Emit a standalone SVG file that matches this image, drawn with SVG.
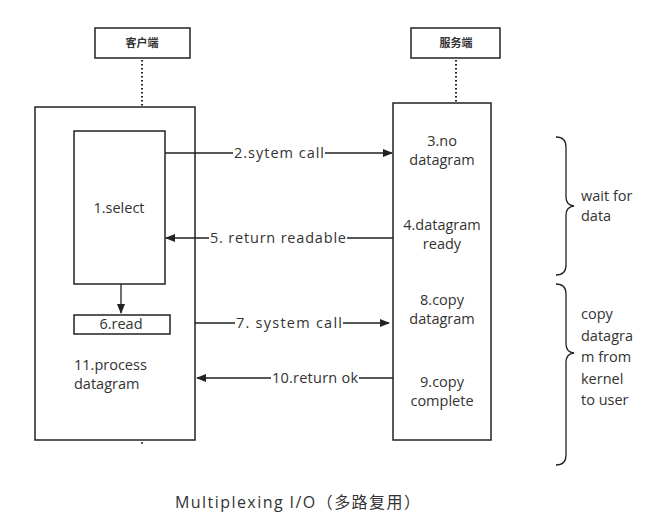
<svg xmlns="http://www.w3.org/2000/svg" width="661" height="516" viewBox="0 0 661 516">
<style>
text{font-family:"Open Sans","DejaVu Sans",sans-serif;font-size:14.5px;fill:#333}
.b{fill:#fff;stroke:#222;stroke-width:1.5}
.l{stroke:#222;stroke-width:1.3;fill:none}
.d{stroke:#222;stroke-width:2;stroke-dasharray:1.5 2.5;fill:none}
.c{text-anchor:middle}
.h{font-family:"Noto Sans CJK SC",sans-serif;font-size:11px;font-weight:bold;text-anchor:middle}
</style>
<defs><marker id="a" markerWidth="10" markerHeight="8" refX="9" refY="4" orient="auto" markerUnits="userSpaceOnUse"><path d="M0,0L10,4L0,8z" fill="#222"/></marker></defs>
<rect width="661" height="516" fill="#fff"/>
<g id="client">
<rect class="b" x="95" y="28" width="95" height="30"/><text class="h" x="142" y="47">客户端</text>
<path class="d" d="M142 60V106"/>
<rect class="b" x="35" y="107" width="160" height="333"/>
<rect class="b" x="74" y="131" width="91" height="153"/><text class="c" x="119" y="213">1.select</text>
<rect class="b" x="74" y="315" width="96" height="19"/><text class="c" x="121" y="329">6.read</text>
<text x="74" y="370">11.process</text><text x="74" y="389">datagram</text>
</g>
<g id="server">
<rect class="b" x="411" y="28" width="89" height="30"/><text class="h" x="456" y="47">服务端</text>
<path class="d" d="M456 60V102"/>
<rect class="b" x="393" y="103" width="98" height="337"/>
<text class="c" x="442" y="146">3.no</text><text class="c" x="442" y="165">datagram</text>
<text class="c" x="442" y="230">4.datagram</text><text class="c" x="442" y="249">ready</text>
<text class="c" x="442" y="305">8.copy</text><text class="c" x="442" y="324">datagram</text>
<text class="c" x="442" y="387">9.copy</text><text class="c" x="442" y="406">complete</text>
</g>
<g id="connectors">
<path class="l" d="M121 284V313" marker-end="url(#a)"/>
<path class="l" d="M165 153H233M325 153H392" marker-end="url(#a)"/><text x="234" y="158" textLength="90">2.sytem call</text>
<path class="l" d="M393 238H347M209 238H166" marker-end="url(#a)"/><text x="210" y="243" textLength="136">5. return readable</text>
<path class="l" d="M195 323H235M343 323H389" marker-end="url(#a)"/><text x="236" y="328" textLength="106">7. system call</text>
<path class="l" d="M393 378H359M271 378H197" marker-end="url(#a)"/><text x="272" y="383" textLength="86">10.return ok</text>
</g>
<g id="braces">
<path class="l" d="M556 137Q566 137 566 147V197Q566 205 574 206Q566 207 566 215V265Q566 275 556 275"/>
<path class="l" d="M556 284Q566 284 566 294V344Q566 352 574 353Q566 354 566 362V455Q566 465 556 465"/>
<text x="581" y="201">wait for</text><text x="581" y="221">data</text>
<text x="581" y="319">copy</text><text x="581" y="341">datagra</text><text x="581" y="362">m from</text><text x="581" y="384">kernel</text><text x="581" y="405">to user</text>
</g>
<circle cx="142" cy="443" r="1" fill="#222"/>
<text x="175" y="508" textLength="245" style="font-size:16px;font-family:'Open Sans','Noto Sans CJK SC',sans-serif">Multiplexing I/O（多路复用）</text>
</svg>
